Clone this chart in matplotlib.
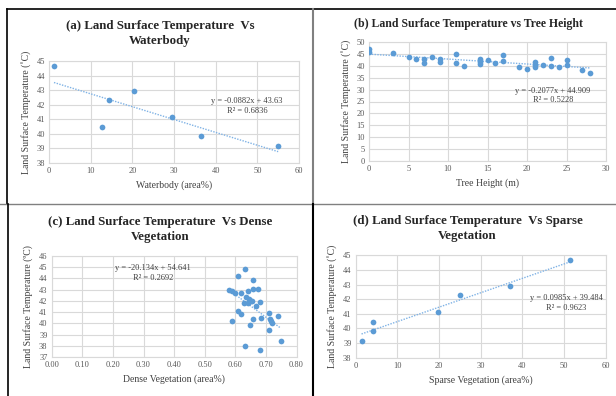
import matplotlib
matplotlib.use("Agg")
import matplotlib.pyplot as plt
from matplotlib.lines import Line2D
import numpy as np

plt.rcParams['font.family'] = ['Liberation Serif', 'DejaVu Serif']

# (a) waterbody
water_x = [1.2, 12.8, 14.4, 20.5, 29.6, 36.5, 55.0]
water_y = [44.66, 40.5, 42.3, 42.95, 41.15, 39.86, 39.2]
water_fit = (-0.0882, 43.63)

# (b) tree height
tree_x = [0, 0, 3, 5, 6, 7, 7, 8, 9, 9, 11, 11, 12, 14, 14, 14, 15, 16, 17, 17,
          19, 20, 21, 21, 21, 22, 23, 23, 24, 25, 25, 27, 28]
tree_y = [46.9, 46.0, 45.2, 43.9, 43.0, 42.9, 41.0, 43.7, 42.7, 41.7, 44.8, 41.3,
          40.1, 42.8, 41.7, 40.8, 42.6, 41.0, 44.6, 42.2, 39.3, 38.5, 41.7, 40.3,
          39.5, 40.4, 43.1, 39.9, 39.5, 42.3, 40.3, 38.1, 36.8]
tree_fit = (-0.2077, 44.909)

# (c) dense vegetation
dense_x = [0.633, 0.608, 0.657, 0.581, 0.590, 0.598, 0.618, 0.642, 0.659, 0.673,
           0.635, 0.645, 0.650, 0.630, 0.640, 0.655, 0.680, 0.667, 0.608, 0.620,
           0.709, 0.738, 0.714, 0.684, 0.659, 0.720, 0.589, 0.649, 0.711, 0.748,
           0.633, 0.680, 0.716]
dense_y = [44.88, 44.25, 43.87, 43.01, 42.86, 42.66, 42.69, 42.86, 43.07, 43.07,
           42.35, 42.15, 42.0, 41.8, 41.8, 41.95, 41.9, 41.56, 41.1, 40.8,
           40.94, 40.67, 40.4, 40.5, 40.4, 40.0, 40.17, 39.88, 39.43, 38.43,
           37.98, 37.63, 40.2]
dense_fit = (-20.134, 54.641)

# (d) sparse vegetation
sparse_x = [1.4, 4.2, 4.2, 19.8, 25.0, 37.1, 51.5]
sparse_y = [39.12, 39.85, 40.44, 41.12, 42.26, 42.9, 44.66]
sparse_fit = (0.0985, 39.484)

blue = '#5B9BD5'
W, H = 616, 396
fig = plt.figure(figsize=(W / 100, H / 100), dpi=100)


def px_axes(x0, y0, x1, y1):
    # pixel box (from top-left) -> axes
    return fig.add_axes([x0 / W, 1 - y1 / H, (x1 - x0) / W, (y1 - y0) / H])


def panel(ax, xs, ys, fit, xlim, ylim, xticks, yticks, xlabel, ylabel, eq, eqpos, fmt='{:g}'):
    ax.scatter(xs, ys, s=17, color=blue, zorder=3, linewidths=0)
    m, b = fit
    xx = np.array([min(xs), max(xs)])
    ax.plot(xx, m * xx + b, linestyle=(0, (1, 1)), color='#7FB2E5', lw=1.0, zorder=2)
    ax.set_xlim(*xlim)
    ax.set_ylim(*ylim)
    ax.set_xticks(xticks)
    ax.set_yticks(yticks)
    ax.set_xticklabels([fmt.format(t) for t in xticks])
    ax.grid(True, color='#D9D9D9', lw=0.8)
    ax.set_axisbelow(True)
    for s in ax.spines.values():
        s.set_color('#D9D9D9')
        s.set_linewidth(0.8)
    ax.tick_params(length=0, labelsize=6, colors='#595959', pad=3)
    ax.set_xlabel(xlabel, fontsize=7, color='#404040', labelpad=4)
    ax.set_ylabel(ylabel, fontsize=7, color='#404040', labelpad=4)
    ax.text(eqpos[0], eqpos[1], eq, transform=ax.transData, fontsize=6,
            color='#404040', ha='center', va='center', linespacing=1.3)


ax_a = px_axes(49, 61, 299, 163)
panel(ax_a, water_x, water_y, water_fit, (0, 60), (38, 45), range(0, 61, 10), range(38, 46),
      'Waterbody (area%)', 'Land Surface Temperature (˚C)',
      'y = -0.0882x + 43.63\nR² = 0.6836', (47.5, 41.9))

ax_b = px_axes(369, 42, 606, 161)
panel(ax_b, tree_x, tree_y, tree_fit, (0, 30), (0, 50), range(0, 31, 5), range(0, 51, 5),
      'Tree Height (m)', 'Land Surface Temperature (˚C)',
      'y = -0.2077x + 44.909\nR² = 0.5228', (23.3, 27.5))

ax_c = px_axes(51.7, 256, 296.5, 357)
panel(ax_c, dense_x, dense_y, dense_fit, (0, 0.8), (37, 46),
      [i / 10 for i in range(9)], range(37, 47),
      'Dense Vegetation (area%)', 'Land Surface Temperature (ºC)',
      'y = -20.134x + 54.641\nR² = 0.2692', (0.33, 44.45), fmt='{:.2f}')

ax_d = px_axes(355.7, 255.3, 605.7, 357.7)
panel(ax_d, sparse_x, sparse_y, sparse_fit, (0, 60), (38, 45), range(0, 61, 10), range(38, 46),
      'Sparse Vegetation (area%)', 'Land Surface Temperature (˚C)',
      'y = 0.0985x + 39.484\nR² = 0.9623', (50.5, 41.75))

# titles
tstyle = dict(fontweight='bold', ha='center', va='center', color='#262626')
fig.text(160 / W, 1 - 33.5 / H, '(a) Land Surface Temperature  Vs\nWaterbody', fontsize=9.3,
         linespacing=1.25, **tstyle)
fig.text(468 / W, 1 - 24 / H, '(b) Land Surface Temperature vs Tree Height', fontsize=8.5, **tstyle)
fig.text(160.5 / W, 1 - 229.5 / H, '(c) Land Surface Temperature  Vs Dense\nVegetation', fontsize=9.3,
         linespacing=1.25, **tstyle)
fig.text(467.5 / W, 1 - 228.5 / H, '(d) Land Surface Temperature  Vs Sparse\nVegetation', fontsize=9.3,
         linespacing=1.25, **tstyle)

# panel borders
def hline(y, x0, x1, c='black', lw=1.2):
    fig.add_artist(Line2D([x0 / W, x1 / W], [1 - y / H, 1 - y / H], color=c, lw=lw))


def vline(x, y0, y1, c='black', lw=1.2):
    fig.add_artist(Line2D([x / W, x / W], [1 - y0 / H, 1 - y1 / H], color=c, lw=lw))


hline(9, 7, 616)
vline(7, 9, 204)
vline(313, 9, 204, c='#808080', lw=1.5)
hline(204, 0, 616, c='#808080', lw=1.0)
vline(8, 204, 396)
vline(313, 204, 396, lw=1.5)

fig.savefig('out.png', dpi=100)
